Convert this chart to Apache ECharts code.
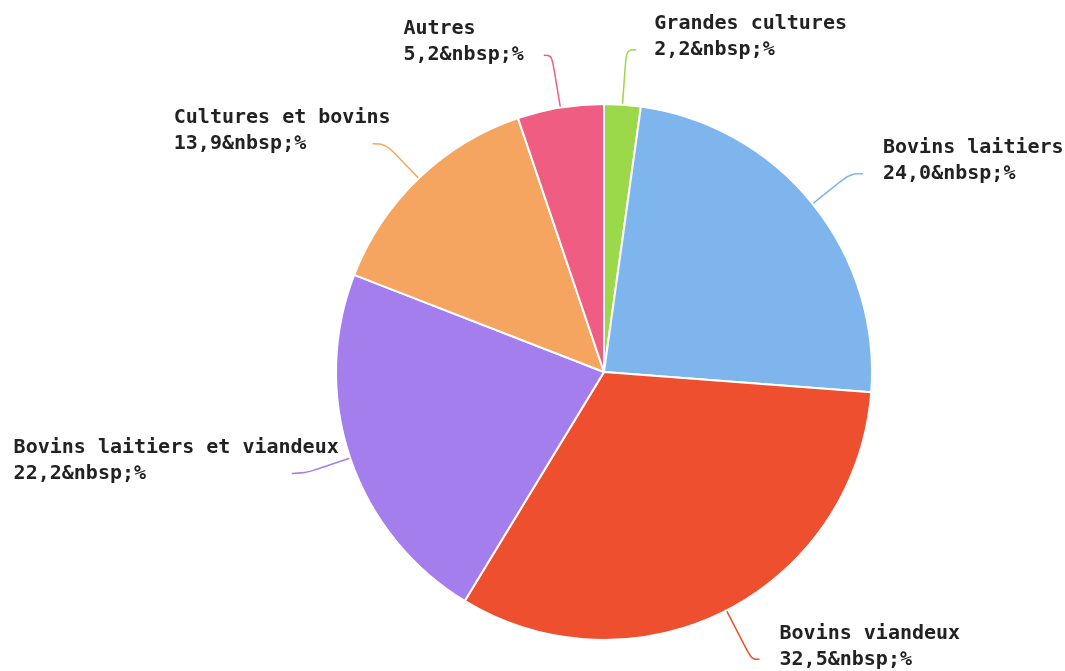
<!DOCTYPE html>
<html>
<head>
<meta charset="utf-8">
<style>
  html, body { margin: 0; padding: 0; background: #fff; }
  #chart { width: 1065px; height: 671px; }
</style>
<script src="https://cdn.jsdelivr.net/npm/echarts@6/dist/echarts.min.js"></script>
</head>
<body>
<div id="chart"></div>
<script>
  // repartition by farm type (%)
  var categories = ["Grandes cultures", "Bovins laitiers", "Bovins viandeux", "Bovins laitiers et viandeux", "Cultures et bovins", "Autres"];
  var values = [2.2, 24.0, 32.5, 22.2, 13.9, 5.2];
  var colors = ["#9bd84a", "#7eb5ec", "#ee4f2e", "#a57eee", "#f5a55f", "#f05d82"];

  var myChart = echarts.init(document.getElementById("chart"));

  // monospace font: pad lines so right-aligned labels still read left-aligned
  function pad(s, n) {
    while (s.length < n) s += " ";
    return s;
  }

  // small per-slice tweaks of the label lines, to follow the original
  var tweaks = {
    "Grandes cultures": { line: { length: 55, length2: 10 }, label: { distanceToLabelLine: 18 } },
    "Autres": { line: { length: 53, length2: 8 } },
    "Bovins viandeux": { line: { length: 55, length2: 8 } },
    "Cultures et bovins": { label: { distanceToLabelLine: -18 } },
    "Bovins laitiers et viandeux": { label: { distanceToLabelLine: -47 } }
  };

  var data = categories.map(function (name, i) {
    var item = { name: name, value: values[i] };
    var t = tweaks[name];
    if (t && t.line) item.labelLine = t.line;
    if (t && t.label) item.label = t.label;
    return item;
  });

  var option = {
    color: colors,
    animation: false,
    series: [
      {
        type: "pie",
        left: 0,
        top: 0,
        width: 1065,
        height: 760,
        center: [604, 372],
        radius: 268,
        startAngle: 90,
        clockwise: true,
        data: data,
        itemStyle: {
          borderColor: "#fff",
          borderWidth: 2
        },
        label: {
          show: true,
          position: "outside",
          fontFamily: "DejaVu Sans Mono",
          fontWeight: "bold",
          fontSize: 20,
          lineHeight: 26,
          color: "#222",
          distanceToLabelLine: 20,
          overflow: "none",
          formatter: function (p) {
            var l1 = p.name;
            var l2 = p.value.toFixed(1).replace(".", ",") + "&nbsp;%";
            var n = Math.max(l1.length, l2.length);
            // blank third line so the value line sits on the line end
            return pad(l1, n) + "\n" + pad(l2, n) + "\n ";
          }
        },
        labelLine: {
          show: true,
          length: 48,
          length2: 13,
          smooth: 0.4,
          lineStyle: { width: 1.5 }
        }
      }
    ]
  };
  myChart.setOption(option);
</script>
</body>
</html>
